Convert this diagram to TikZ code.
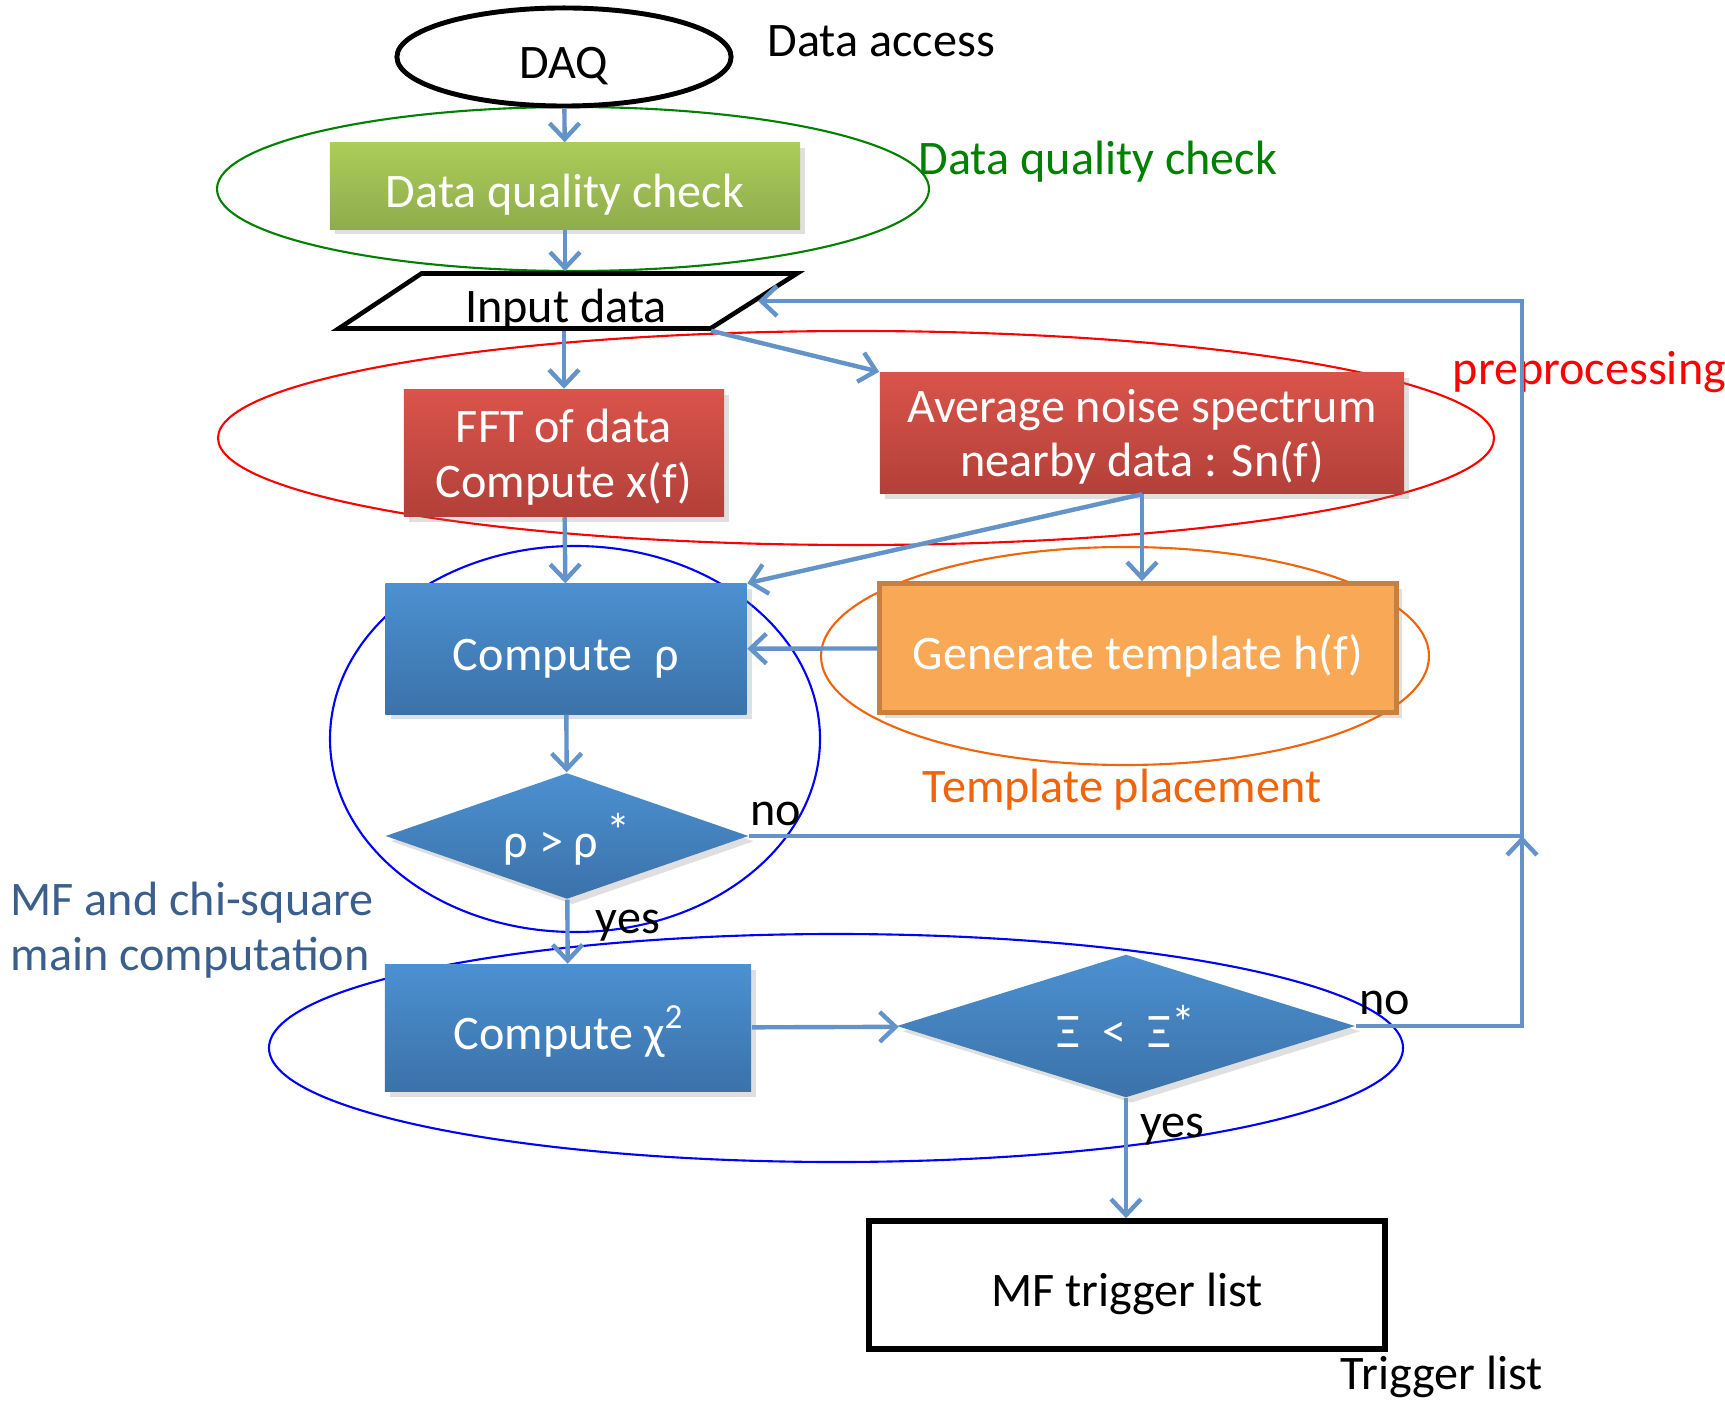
\documentclass[tikz,border=0pt]{standalone}
\usepackage{fontspec}
\setmainfont{Carlito}
\usetikzlibrary{shapes.geometric,arrows.meta,shadows}
\definecolor{flowblue}{RGB}{99,147,201}
\definecolor{dqgreen}{RGB}{0,128,0}
\definecolor{tporange}{RGB}{240,100,10}
\definecolor{mftext}{RGB}{58,95,140}

\begin{document}
\begin{tikzpicture}[x=0.01cm,y=-0.01cm,
    txt/.style={font={\fontsize{13.7}{15.6}\selectfont}},
    label/.style={txt,inner sep=0pt},
    inbox/.style={txt,text height=12pt,text depth=0pt},
    box/.style={txt,text=white,align=center,inner sep=0pt,
        drop shadow={opacity=0.25,shadow xshift=1.5pt,shadow yshift=-1.5pt}},
    redbox/.style={box,top color={rgb,255:red,217;green,84;blue,74},bottom color={rgb,255:red,178;green,64;blue,57}},
    bluebox/.style={box,top color={rgb,255:red,76;green,144;blue,209},bottom color={rgb,255:red,59;green,114;blue,169}},
    decide/.style={bluebox,diamond},
    group/.style={line width=0.6pt},
    flow/.style={draw=flowblue,line width=1.25pt,->},
    >={Straight Barb[length=4.5pt,width=8.5pt]}]
\useasboundingbox (0,0) rectangle (1725,1401);

% grouping ellipses
\draw[group,dqgreen] (573,189) ellipse (356 and 82);
\draw[group,red] (856,438) ellipse (638 and 107);
\draw[group,tporange] (1125,656) ellipse (304 and 109);
\draw[group,blue] (575,739) ellipse (245 and 193);
\draw[group,blue] (836,1048) ellipse (567 and 114);

% flow chart
\node[inbox,ellipse,draw,line width=1.4pt,minimum width=3.34cm,minimum height=0.98cm] (daq) at (564,57) {DAQ};
\node[box,inbox,top color={rgb,255:red,171;green,204;blue,90},bottom color={rgb,255:red,143;green,172;blue,75},minimum width=4.7cm,minimum height=0.86cm] (dqc) at (565,186) {Data quality check};
\node[inbox,trapezium,draw,line width=1.3pt,trapezium left angle=27,trapezium right angle=154,trapezium stretches body,minimum width=4.58cm,minimum height=0.55cm,inner sep=0pt] (input) at (566,301) {Input data};
\node[redbox,text depth=0pt,minimum width=3.2cm,minimum height=1.27cm] (fft) at (564,453) {FFT of data\\Compute x(f)};
\node[redbox,text depth=0pt,minimum width=5.24cm,minimum height=1.21cm] (noise) at (1142,433) {Average noise spectrum\\nearby data : Sn(f)};
\node[bluebox,inbox,minimum width=3.61cm,minimum height=1.3cm] (rho) at (566,649) {Compute\ \ ρ};
\node[box,inbox,fill={rgb,255:red,249;green,168;blue,86},draw={rgb,255:red,200;green,128;blue,63},line width=1.3pt,minimum width=5.17cm,minimum height=1.29cm] (gen) at (1138,648) {Generate template h(f)};
\node[decide,inbox,aspect=2.88,minimum width=3.63cm,minimum height=1.26cm] (dec1) at (567,836) {ρ > ρ\,\raisebox{0.2em}{*}};
\node[bluebox,inbox,minimum width=3.66cm,minimum height=1.27cm] (chi) at (568,1028) {Compute χ\raisebox{0.42em}{\fontsize{10}{10}\selectfont 2}};
\node[decide,inbox,aspect=3.2,minimum width=4.58cm,minimum height=1.43cm] (dec2) at (1126,1026) {Ξ\ \ <\ \ Ξ\raisebox{0.15em}{*}};
\node[inbox,draw,line width=1.6pt,minimum width=5.16cm,minimum height=1.28cm] (trig) at (1127,1285) {MF trigger list};

% labels
\node[label,anchor=west] (lbdaq) at (767,41) {Data access};
\node[label,anchor=west,text=dqgreen] (lbdqc) at (918,162) {Data quality check};
\node[label,anchor=west,text=red] (lbpre) at (1452,372) {preprocessing};
\node[label,text=tporange] (lbtp) at (1122,790) {Template placement};
\node[label,anchor=west,text=mftext,align=left] (lbmf) at (10,930) {MF and chi-square\\main computation};
\node[label,anchor=west] (lbtrig) at (1340,1377) {Trigger list};
\node[label] (no1) at (776,814) {no};
\node[label] (yes1) at (628,926) {yes};
\node[label] (no2) at (1385,1003) {no};
\node[label] (yes2) at (1172,1130) {yes};

% connectors
\coordinate (back) at (1522,836);
\draw[flow] (daq) -- (dqc);
\draw[flow] (dqc.south) -- (dqc.south |- input.north);
\draw[flow] (fft.north |- input.south) -- (fft.north);
\draw[flow] (input.bottom right corner) -- (noise.north west);
\draw[flow] (fft) -- (rho);
\draw[flow] (noise.south) -- (noise.south |- gen.north);
\draw[flow] (noise.south) -- (rho.north east);
\draw[flow] (gen) -- (rho);
\draw[flow] (rho) -- (dec1);
\draw[flow] (dec1) -- (chi);
\draw[flow] (chi) -- (dec2);
\draw[flow] (dec2.south) -- (dec2.south |- trig.north);
\draw[flow] (dec1.east) -- (back) |- (input.east);
\draw[flow] (dec2.east) -| (back);

\end{tikzpicture}
\end{document}
